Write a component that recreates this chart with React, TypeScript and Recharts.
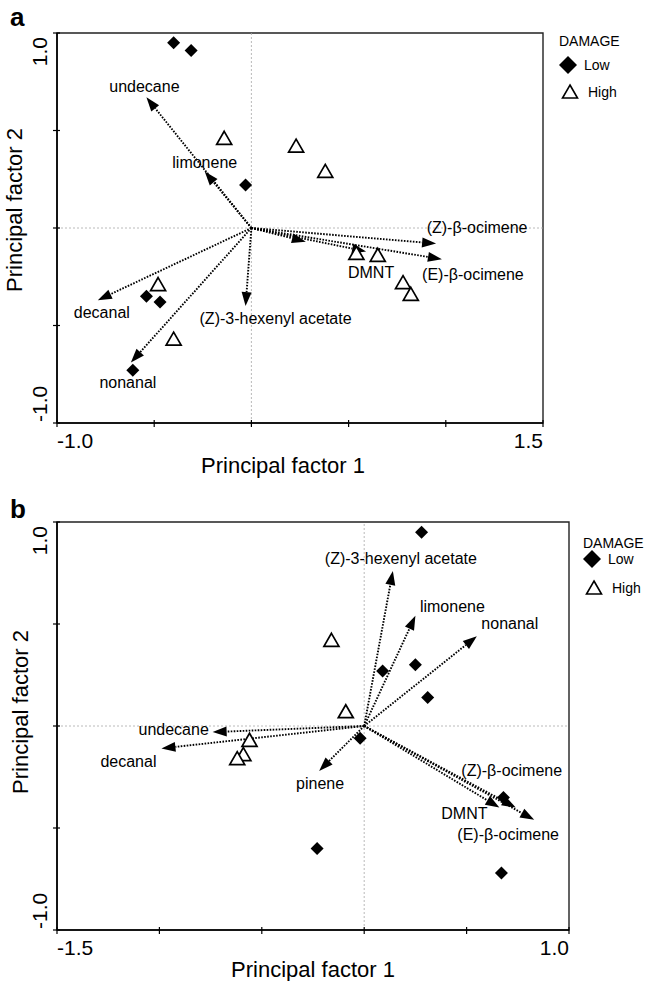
import React from 'react';
import { ScatterChart, Scatter, XAxis, YAxis, ReferenceLine, ReferenceArea, Legend } from 'recharts';

const FONT = '"Liberation Sans", Arial, Helvetica, sans-serif';

// ---- panel a data (principal factor scores / loadings) ----
const lowA = [
  { x: -0.4, y: 0.95 },
  { x: -0.31, y: 0.91 },
  { x: -0.03, y: 0.22 },
  { x: -0.54, y: -0.35 },
  { x: -0.47, y: -0.38 },
  { x: -0.61, y: -0.73 },
];
const highA = [
  { x: -0.14, y: 0.46 },
  { x: 0.23, y: 0.42 },
  { x: 0.38, y: 0.29 },
  { x: -0.48, y: -0.29 },
  { x: -0.4, y: -0.57 },
  { x: 0.54, y: -0.13 },
  { x: 0.65, y: -0.14 },
  { x: 0.78, y: -0.28 },
  { x: 0.82, y: -0.34 },
];
const vectorsA = [
  { name: 'undecane', x: -0.54, y: 0.67 },
  { name: 'limonene', x: -0.24, y: 0.29 },
  { name: 'decanal', x: -0.79, y: -0.37 },
  { name: 'nonanal', x: -0.62, y: -0.69 },
  { name: '(Z)-3-hexenyl acetate', x: -0.03, y: -0.4 },
  { name: '', x: 0.28, y: -0.07 },
  { name: 'DMNT', x: 0.59, y: -0.12 },
  { name: '(Z)-β-ocimene', x: 0.95, y: -0.08 },
  { name: '(E)-β-ocimene', x: 0.98, y: -0.16 },
];
const xTicksA = [-1, -0.5, 0, 0.5, 1, 1.5];

// ---- panel b data ----
const lowB = [
  { x: 0.28, y: 0.95 },
  { x: 0.09, y: 0.27 },
  { x: 0.25, y: 0.3 },
  { x: 0.31, y: 0.14 },
  { x: -0.02, y: -0.06 },
  { x: -0.23, y: -0.6 },
  { x: 0.67, y: -0.72 },
  { x: 0.68, y: -0.35 },
];
const highB = [
  { x: -0.16, y: 0.42 },
  { x: -0.09, y: 0.07 },
  { x: -0.56, y: -0.07 },
  { x: -0.59, y: -0.14 },
  { x: -0.62, y: -0.16 },
];
const vectorsB = [
  { name: '(Z)-3-hexenyl acetate', x: 0.14, y: 0.76 },
  { name: 'limonene', x: 0.25, y: 0.54 },
  { name: 'nonanal', x: 0.55, y: 0.44 },
  { name: 'undecane', x: -0.74, y: -0.03 },
  { name: 'decanal', x: -0.99, y: -0.11 },
  { name: 'pinene', x: -0.22, y: -0.22 },
  { name: '(Z)-β-ocimene', x: 0.74, y: -0.4 },
  { name: 'DMNT', x: 0.66, y: -0.4 },
  { name: '(E)-β-ocimene', x: 0.83, y: -0.46 },
];
const xTicksB = [-1.5, -1, -0.5, 0, 0.5, 1];

const yTicks = [-1, -0.5, 0, 0.5, 1];

// label placement relative to the arrow tip (pixels)
const labelOffsetA: Record<string, [number, number]> = {
  undecane: [-2, -11],
  limonene: [0, -9],
  decanal: [4, 12],
  nonanal: [-3, 19],
  '(Z)-3-hexenyl acetate': [30, 12],
  DMNT: [5, 21],
  '(Z)-β-ocimene': [41, -17],
  '(E)-β-ocimene': [31, 15],
};
const labelOffsetB: Record<string, [number, number]> = {
  '(Z)-3-hexenyl acetate': [8, -13],
  limonene: [37, -10],
  nonanal: [33, -13],
  undecane: [-39, -3],
  decanal: [-33, 13],
  pinene: [1, 12],
  '(Z)-β-ocimene': [-4, -38],
  DMNT: [-35, 5],
  '(E)-β-ocimene': [-26, 14],
};

const Diamond = (p: any) => {
  const { cx, cy } = p;
  const r = 6.5;
  return <polygon points={`${cx},${cy - r} ${cx + r},${cy} ${cx},${cy + r} ${cx - r},${cy}`} fill="#000" />;
};

const Triangle = (p: any) => {
  const { cx, cy } = p;
  return (
    <polygon
      points={`${cx},${cy - 7} ${cx + 7.5},${cy + 6} ${cx - 7.5},${cy + 6}`}
      fill="#fff"
      stroke="#000"
      strokeWidth={1.7}
      strokeLinejoin="miter"
    />
  );
};

const arrowShape = (label: string, off: [number, number] | undefined) => (p: any) => {
  const { x1, y1, x2, y2 } = p;
  const ang = Math.atan2(y2 - y1, x2 - x1);
  const len = 14;
  const half = 5;
  const bx = x2 - len * Math.cos(ang);
  const by = y2 - len * Math.sin(ang);
  const nx = -Math.sin(ang) * half;
  const ny = Math.cos(ang) * half;
  return (
    <g>
      <line x1={x1} y1={y1} x2={bx} y2={by} stroke="#000" strokeWidth={1.9} strokeDasharray="1.6 1.4" />
      <polygon points={`${x2},${y2} ${bx + nx},${by + ny} ${bx - nx},${by - ny}`} fill="#000" />
      {label && off && (
        <text x={x2 + off[0]} y={y2 + off[1] + 6} textAnchor="middle" fontSize={16} fill="#000">
          {label}
        </text>
      )}
    </g>
  );
};

const fmt = (v: number) => v.toFixed(1);

const makeXTick = (first: number, last: number) => (p: any) => {
  const { x, y, payload } = p;
  const v = payload.value;
  return (
    <g>
      <line x1={x} x2={x} y1={y - 3} y2={y + 4} stroke="#000" strokeWidth={1.2} />
      {v === first && (
        <text x={x} y={y + 25} textAnchor="start" fontSize={21} fill="#000">
          {fmt(v)}
        </text>
      )}
      {v === last && (
        <text x={x} y={y + 25} textAnchor="end" fontSize={21} fill="#000">
          {fmt(v)}
        </text>
      )}
    </g>
  );
};

const makeYTick = (first: number, last: number) => (p: any) => {
  const { x, y, payload } = p;
  const v = payload.value;
  return (
    <g>
      <line x1={x - 4} x2={x + 3} y1={y} y2={y} stroke="#000" strokeWidth={1.2} />
      {v === first && (
        <text transform={`translate(${x - 10},${y - 1}) rotate(-90)`} textAnchor="start" fontSize={21} fill="#000">
          {fmt(v)}
        </text>
      )}
      {v === last && (
        <text transform={`translate(${x - 10},${y + 4}) rotate(-90)`} textAnchor="end" fontSize={21} fill="#000">
          {fmt(v)}
        </text>
      )}
    </g>
  );
};

interface LegendLayout {
  left: number;
  top: number;
  titleY: number;
  lowY: number;
  highY: number;
}

const makeLegend = (L: LegendLayout) => () => (
  <svg width={90} height={80} style={{ display: 'block', overflow: 'visible', fontFamily: FONT }}>
    <text x={9} y={L.titleY + 5} fontSize={14}>DAMAGE</text>
    <polygon
      points={`18,${L.lowY - 9} 27,${L.lowY} 18,${L.lowY + 9} 9,${L.lowY}`}
      fill="#000"
    />
    <text x={34} y={L.lowY + 5} fontSize={14}>Low</text>
    <polygon
      points={`20,${L.highY - 7} 27.5,${L.highY + 6} 12.5,${L.highY + 6}`}
      fill="#fff"
      stroke="#000"
      strokeWidth={1.6}
    />
    <text x={38} y={L.highY + 5} fontSize={14}>High</text>
  </svg>
);

interface PanelProps {
  low: { x: number; y: number }[];
  high: { x: number; y: number }[];
  vectors: { name: string; x: number; y: number }[];
  offsets: Record<string, [number, number]>;
  xTicks: number[];
  width: number;
  height: number;
  margin: { top: number; right: number; bottom: number; left: number };
  legend: LegendLayout;
  xTitle: { dx: number; dy: number };
  yTitle: { x: number; dy: number };
}

function Biplot(props: PanelProps) {
  const { low, high, vectors, offsets, xTicks, width, height, margin, legend, xTitle, yTitle } = props;
  const xMin = xTicks[0];
  const xMax = xTicks[xTicks.length - 1];
  return (
    <ScatterChart width={width} height={height} margin={margin} style={{ fontFamily: FONT }}>
      <XAxis
        type="number"
        dataKey="x"
        domain={[xMin, xMax]}
        allowDataOverflow
        ticks={xTicks}
        interval={0}
        height={40}
        tickSize={0}
        tickMargin={0}
        tickLine={false}
        axisLine={{ stroke: '#000', strokeWidth: 1.6 }}
        tick={makeXTick(xMin, xMax)}
        label={(p: any) => {
          const vb = p.viewBox || {};
          return (
            <text
              x={vb.x + vb.width / 2 + xTitle.dx}
              y={vb.y + xTitle.dy}
              textAnchor="middle"
              fontSize={22}
              fill="#000"
            >
              Principal factor 1
            </text>
          );
        }}
      />
      <YAxis
        type="number"
        dataKey="y"
        domain={[-1, 1]}
        allowDataOverflow
        ticks={yTicks}
        interval={0}
        width={40}
        tickSize={0}
        tickMargin={0}
        tickLine={false}
        axisLine={{ stroke: '#000', strokeWidth: 1.6 }}
        tick={makeYTick(-1, 1)}
        label={(p: any) => {
          const vb = p.viewBox || {};
          const cy = vb.y + vb.height / 2 + yTitle.dy;
          return (
            <text
              transform={`translate(${yTitle.x},${cy}) rotate(-90)`}
              textAnchor="middle"
              fontSize={22}
              fill="#000"
            >
              Principal factor 2
            </text>
          );
        }}
      />
      <ReferenceLine x={0} stroke="#a8a8a8" strokeWidth={0.8} strokeDasharray="2 2" />
      <ReferenceLine y={0} stroke="#a8a8a8" strokeWidth={0.8} strokeDasharray="2 2" />
      <ReferenceArea x1={xMin} x2={xMax} y1={-1} y2={1} fill="none" fillOpacity={0} stroke="#222" strokeWidth={1.4} />
      {vectors.map((v, i) => (
        <ReferenceLine
          key={`vec-${i}`}
          segment={[
            { x: 0, y: 0 },
            { x: v.x, y: v.y },
          ]}
          ifOverflow="visible"
          shape={arrowShape(v.name, offsets[v.name])}
        />
      ))}
      <Scatter name="Low" data={low} shape={Diamond} isAnimationActive={false} />
      <Scatter name="High" data={high} shape={Triangle} isAnimationActive={false} />
      <Legend
        layout="horizontal"
        verticalAlign="middle"
        align="center"
        content={makeLegend(legend)}
        wrapperStyle={{ left: legend.left, top: legend.top, width: 90, height: 80 }}
      />
    </ScatterChart>
  );
}

export default function App() {
  return (
    <div style={{ position: 'relative', width: 646, height: 981, overflow: 'hidden', background: '#fff', fontFamily: FONT }}>
      <style>{'body{margin:0;background:#fff}'}</style>
      <div style={{ position: 'absolute', left: 10, top: 4, fontSize: 26, fontWeight: 'bold', lineHeight: '26px' }}>a</div>
      <div style={{ position: 'absolute', left: 10, top: 496, fontSize: 26, fontWeight: 'bold', lineHeight: '26px' }}>b</div>
      <div style={{ position: 'absolute', left: 0, top: 0 }}>
        <Biplot
          low={lowA}
          high={highA}
          vectors={vectorsA}
          offsets={labelOffsetA}
          xTicks={xTicksA}
          width={646}
          height={490}
          margin={{ top: 33, right: 103, bottom: 27, left: 17 }}
          legend={{ left: 550, top: 25, titleY: 16, lowY: 40, highY: 67 }}
          xTitle={{ dx: -17, dy: 50 }}
          yTitle={{ x: 22, dy: -18 }}
        />
      </div>
      <div style={{ position: 'absolute', left: 0, top: 490 }}>
        <Biplot
          low={lowB}
          high={highB}
          vectors={vectorsB}
          offsets={labelOffsetB}
          xTicks={xTicksB}
          width={646}
          height={491}
          margin={{ top: 32, right: 77, bottom: 11, left: 17 }}
          legend={{ left: 574, top: 28, titleY: 25, lowY: 41, highY: 70 }}
          xTitle={{ dx: 0, dy: 47 }}
          yTitle={{ x: 28, dy: -14 }}
        />
      </div>
    </div>
  );
}
